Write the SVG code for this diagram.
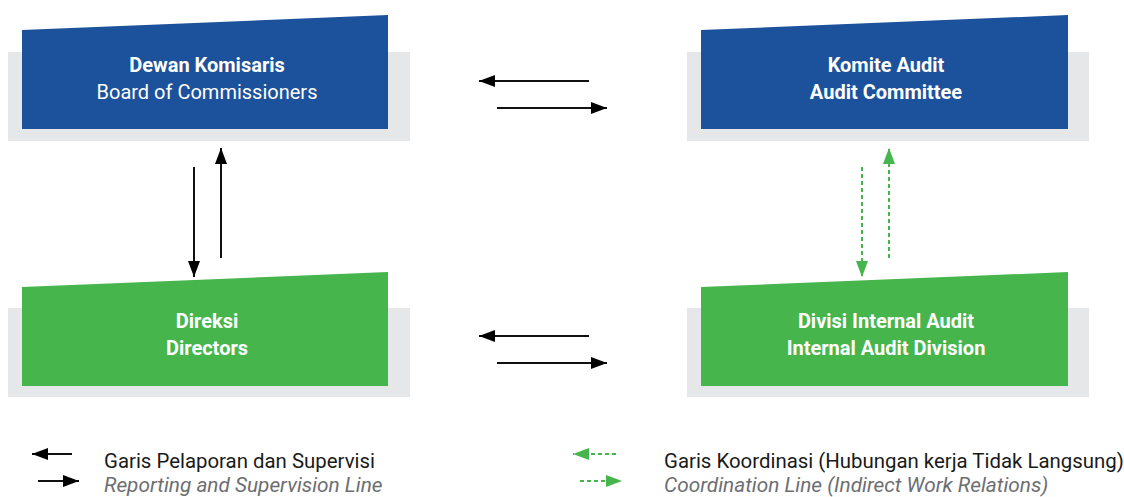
<svg xmlns="http://www.w3.org/2000/svg" width="1124" height="497" viewBox="0 0 1124 497">
  <style>
    .shadow { fill: #e6e7e8; }
    .blue { fill: #1c519b; }
    .green { fill: #45b54c; }
    .label { font-family: Roboto, "Liberation Sans", sans-serif; font-size: 20px; fill: #ffffff; text-anchor: middle; }
    .b { font-weight: 700; }
    .solid { stroke: #111111; stroke-width: 2; fill: none; }
    .dash { stroke: #45b54c; stroke-width: 2; stroke-dasharray: 4 3; fill: none; }
    .legend { font-family: Roboto, "Liberation Sans", sans-serif; }
    .legend-main { fill: #1a1a1a; font-size: 20.4px; }
    .legend-sub { fill: #6d6e71; font-style: italic; font-size: 20.8px; }
  </style>
  <defs>
    <marker id="headBlack" viewBox="0 0 16 12" refX="16" refY="6" markerWidth="16" markerHeight="12" markerUnits="userSpaceOnUse" orient="auto">
      <path d="M0,0 L16,6 L0,12 Z" fill="#000000"/>
    </marker>
    <marker id="headGreen" viewBox="0 0 16 12" refX="16" refY="6" markerWidth="16" markerHeight="12" markerUnits="userSpaceOnUse" orient="auto">
      <path d="M0,0 L16,6 L0,12 Z" fill="#45b54c"/>
    </marker>
  </defs>

  <!-- Board of Commissioners -->
  <g id="dewan-komisaris">
    <rect class="shadow" x="8" y="52" width="402" height="89"/>
    <polygon class="blue" points="22,30 388,15 388,129 22,129"/>
    <text class="label b" x="207" y="72">Dewan Komisaris</text>
    <text class="label" x="207" y="99">Board of Commissioners</text>
  </g>

  <!-- Audit Committee -->
  <g id="komite-audit">
    <rect class="shadow" x="687" y="52" width="402" height="89"/>
    <polygon class="blue" points="701,30 1068,15 1068,129 701,129"/>
    <text class="label b" x="886" y="72">Komite Audit</text>
    <text class="label b" x="886" y="99">Audit Committee</text>
  </g>

  <!-- Directors -->
  <g id="direksi">
    <rect class="shadow" x="8" y="308" width="402" height="89"/>
    <polygon class="green" points="22,287 388,272 388,386 22,386"/>
    <text class="label b" x="207" y="328">Direksi</text>
    <text class="label b" x="207" y="355">Directors</text>
  </g>

  <!-- Internal Audit Division -->
  <g id="divisi-internal-audit">
    <rect class="shadow" x="687" y="308" width="402" height="89"/>
    <polygon class="green" points="701,287 1068,272 1068,386 701,386"/>
    <text class="label b" x="886" y="328">Divisi Internal Audit</text>
    <text class="label b" x="886" y="355">Internal Audit Division</text>
  </g>

  <!-- Connectors -->
  <g id="connectors">
    <line class="solid" x1="589" y1="81" x2="479" y2="81" marker-end="url(#headBlack)"/>
    <line class="solid" x1="497" y1="108" x2="607" y2="108" marker-end="url(#headBlack)"/>
    <line class="solid" x1="589" y1="336" x2="479" y2="336" marker-end="url(#headBlack)"/>
    <line class="solid" x1="497" y1="363" x2="607" y2="363" marker-end="url(#headBlack)"/>
    <line class="solid" x1="194" y1="167" x2="194" y2="277" marker-end="url(#headBlack)"/>
    <line class="solid" x1="221" y1="258" x2="221" y2="148" marker-end="url(#headBlack)"/>
    <line class="dash" x1="862" y1="167" x2="862" y2="277" marker-end="url(#headGreen)"/>
    <line class="dash" x1="889" y1="258" x2="889" y2="148" marker-end="url(#headGreen)"/>
  </g>

  <!-- Legend -->
  <g id="legend">
    <line class="solid" x1="72" y1="454" x2="32" y2="454" marker-end="url(#headBlack)"/>
    <line class="solid" x1="38" y1="481" x2="79" y2="481" marker-end="url(#headBlack)"/>
    <text class="legend legend-main" x="104" y="468">Garis Pelaporan dan Supervisi</text>
    <text class="legend legend-sub" x="104" y="492">Reporting and Supervision Line</text>

    <line class="dash" x1="616" y1="454" x2="573" y2="454" marker-end="url(#headGreen)"/>
    <line class="dash" x1="580" y1="481" x2="622" y2="481" marker-end="url(#headGreen)"/>
    <text class="legend legend-main" x="664" y="468">Garis Koordinasi (Hubungan kerja Tidak Langsung)</text>
    <text class="legend legend-sub" x="664" y="492">Coordination Line (Indirect Work Relations)</text>
  </g>
</svg>
